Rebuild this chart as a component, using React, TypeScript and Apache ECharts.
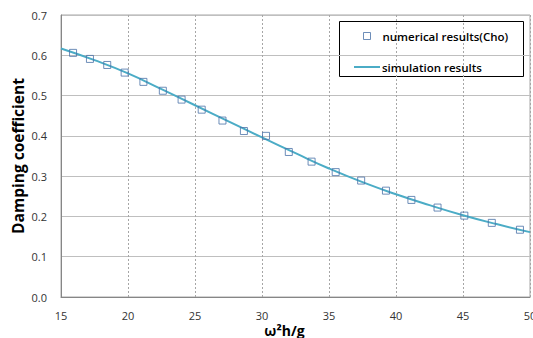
import React, { useEffect, useRef } from "react";
import * as echarts from "echarts";

const numX = [15.9, 17.16, 18.45, 19.75, 21.15, 22.6, 24.0, 25.5, 27.05, 28.65, 30.3, 32.0, 33.7, 35.5, 37.4, 39.25, 41.15, 43.1, 45.1, 47.15, 49.25];
const numY = [0.606, 0.591, 0.576, 0.557, 0.534, 0.512, 0.49, 0.465, 0.438, 0.412, 0.4, 0.36, 0.336, 0.31, 0.289, 0.264, 0.241, 0.222, 0.202, 0.184, 0.167];

const simX = [15, 17.5, 20, 22.5, 25, 27.5, 30, 32.5, 35, 37.5, 40, 42.5, 45, 47.5, 50];
const simY = [0.617, 0.588, 0.555, 0.516, 0.476, 0.436, 0.396, 0.357, 0.319, 0.285, 0.255, 0.228, 0.203, 0.181, 0.161];

const xTicks = { min: 15, max: 50, interval: 5 };
const yTicks = { min: 0, max: 0.7, interval: 0.1 };

const numName = "numerical results(Cho)";
const simName = "simulation results";

const FONT = "'Open Sans', 'Liberation Sans', sans-serif";

export default function App() {
  const ref = useRef<HTMLDivElement>(null);
  useEffect(() => {
    document.body.style.margin = "0";
    const chart = echarts.init(ref.current!, undefined, { renderer: "svg" });
    const markerColor = "#4a72a8";
    const lineColor = "#4bacc6";
    chart.setOption({
      animation: false,
      backgroundColor: "#fff",
      grid: {
        left: 61,
        right: 3,
        top: 15,
        bottom: 41,
        outerBoundsMode: "none",
        containLabel: false,
        show: true,
        borderColor: "#a6a6a6",
        borderWidth: 1,
        backgroundColor: "transparent",
      },
      xAxis: {
        type: "value",
        min: xTicks.min,
        max: xTicks.max,
        interval: xTicks.interval,
        name: "ω²h/g",
        nameLocation: "middle",
        nameGap: 26,
        nameMoveOverlap: false,
        nameTextStyle: {
          fontFamily: FONT,
          fontWeight: "bold",
          fontSize: 14,
          lineHeight: 14,
          color: "#000",
          padding: [0, 22, 0, 0],
        },
        axisLine: { lineStyle: { color: "#868686" } },
        axisTick: { show: false },
        axisLabel: { fontFamily: FONT, fontSize: 11, lineHeight: 12, color: "#333", margin: 12 },
        splitLine: { show: true, lineStyle: { color: "#a6a6a6", type: [2, 2] } },
      },
      yAxis: {
        type: "value",
        min: yTicks.min,
        max: yTicks.max,
        interval: yTicks.interval,
        name: "Damping coefficient",
        nameLocation: "middle",
        nameGap: 35,
        nameMoveOverlap: false,
        nameTextStyle: { fontFamily: FONT, fontWeight: "bold", fontSize: 15.5, color: "#000" },
        axisLine: { show: true, lineStyle: { color: "#868686" } },
        axisTick: { show: false },
        axisLabel: {
          fontFamily: FONT,
          fontSize: 11,
          color: "#333",
          margin: 14,
          formatter: (v: number) => v.toFixed(1),
        },
        splitLine: { show: true, lineStyle: { color: "#bfbfbf", type: "solid" } },
      },
      legend: [
        {
          data: [
            {
              name: numName,
              icon: "rect",
              itemStyle: { color: "#fff", borderColor: markerColor, borderWidth: 1 },
            },
          ],
          left: 363,
          top: 30,
          itemWidth: 7,
          itemHeight: 7,
          padding: 0,
          textStyle: { fontFamily: FONT, fontSize: 11.5, fontWeight: 600, color: "#000", padding: [0, 0, 0, 7] },
        },
        {
          data: [{ name: simName, icon: "rect", itemStyle: { color: lineColor } }],
          left: 354,
          top: 61,
          itemWidth: 26,
          itemHeight: 2,
          padding: 0,
          textStyle: { fontFamily: FONT, fontSize: 11.5, fontWeight: 600, color: "#000", padding: [0, 0, 0, -3] },
        },
      ],
      graphic: [
        {
          type: "rect",
          left: 339,
          top: 21,
          shape: { width: 184, height: 55 },
          style: { fill: "#fff", stroke: "#000", lineWidth: 1 },
          z: -1,
          zlevel: 0,
        },
      ],
      series: [
        {
          name: simName,
          type: "line",
          data: simX.map((x, i) => [x, simY[i]]),
          smooth: true,
          symbol: "none",
          lineStyle: { color: lineColor, width: 2 },
          itemStyle: { color: lineColor },
          z: 2,
        },
        {
          name: numName,
          type: "scatter",
          data: numX.map((x, i) => [x, numY[i]]),
          symbol: "rect",
          symbolSize: 7,
          itemStyle: { color: "rgba(255,255,255,0)", borderColor: markerColor, borderWidth: 1 },
          z: 3,
        },
      ],
    });
    return () => chart.dispose();
  }, []);
  return <div ref={ref} style={{ width: 533, height: 338 }} />;
}
